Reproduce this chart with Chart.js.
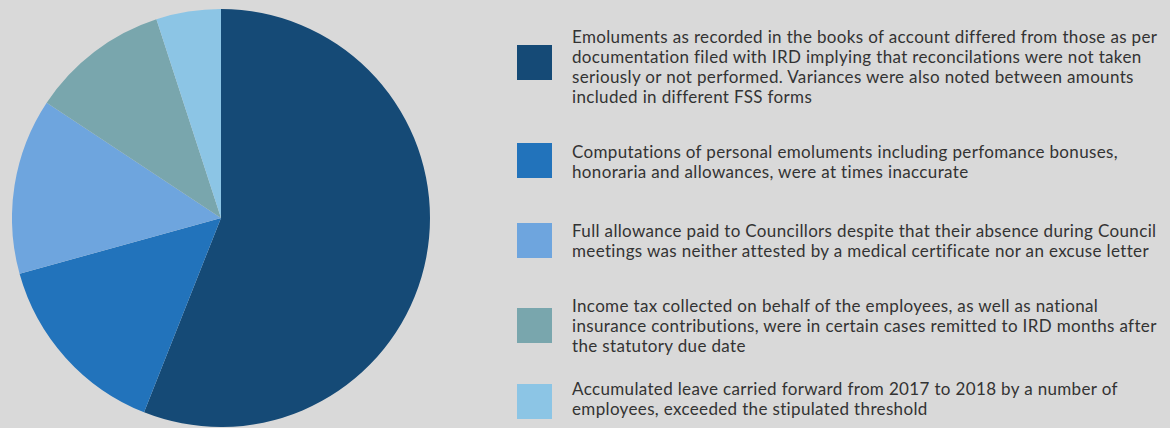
<!DOCTYPE html>
<html>
<head>
<meta charset="utf-8">
<script src="https://cdn.jsdelivr.net/npm/chart.js@4.4.1/dist/chart.umd.min.js"></script>
<style>
    html, body {
        margin: 0;
        padding: 0;
        width: 1170px;
        height: 428px;
        background: #d9d9d9;
        overflow: hidden;
        font-family: Lato, "Open Sans", sans-serif;
    }
    #pie-wrap {
        position: absolute;
        left: 12px;
        top: 8px;
        width: 418px;
        height: 420px;
    }
    .row { position: absolute; left: 0; top: 0; }
    .box {
        position: absolute;
        left: 517px;
        width: 35px;
        height: 35px;
    }
    .txt {
        position: absolute;
        left: 572px;
        font-size: 17px;
        letter-spacing: 0.35px;
        line-height: 20px;
        color: #333;
        white-space: nowrap;
    }
    /* posicao de cada linha da legenda */
    .row:nth-child(1) .box { top: 45px; }  .row:nth-child(1) .txt { top: 27px; }
    .row:nth-child(2) .box { top: 143px; } .row:nth-child(2) .txt { top: 142px; }
    .row:nth-child(3) .box { top: 223px; } .row:nth-child(3) .txt { top: 221px; }
    .row:nth-child(4) .box { top: 308px; } .row:nth-child(4) .txt { top: 296px; }
    .row:nth-child(5) .box { top: 384px; } .row:nth-child(5) .txt { top: 379px; }
</style>
</head>
<body>
<div id="pie-wrap"><canvas id="graficoPizza"></canvas></div>
<div id="legenda"></div>

<script>
// ======================================
// DADOS
// ======================================
const categorias = [
    ['Emoluments as recorded in the books of account differed from those as per',
     'documentation filed with IRD implying that reconcilations were not taken',
     'seriously or not performed. Variances were also noted between amounts',
     'included in different FSS forms'],
    ['Computations of personal emoluments including perfomance bonuses,',
     'honoraria and allowances, were at times inaccurate'],
    ['Full allowance paid to Councillors despite that their absence during Council',
     'meetings was neither attested by a medical certificate nor an excuse letter'],
    ['Income tax collected on behalf of the employees, as well as national',
     'insurance contributions, were in certain cases remitted to IRD months after',
     'the statutory due date'],
    ['Accumulated leave carried forward from 2017 to 2018 by a number of',
     'employees, exceeded the stipulated threshold']
];
const valores = [56, 14.7, 13.6, 10.7, 5];
const cores = ['#154a76', '#2273bb', '#6ea5de', '#79a6ad', '#8cc5e5'];

// ======================================
// GRAFICO
// ======================================
const ctx = document.getElementById('graficoPizza');
const chart = new Chart(ctx, {
    type: 'pie',
    data: {
        labels: categorias,
        datasets: [{
            data: valores,
            backgroundColor: cores,
            borderWidth: 0
        }]
    },
    options: {
        responsive: true,
        maintainAspectRatio: false,
        animation: false,
        layout: { padding: 0 },
        plugins: {
            legend: { display: false },
            tooltip: { enabled: true }
        }
    }
});

// Legenda em HTML a partir dos itens do proprio grafico
const legenda = document.getElementById('legenda');
const itens = chart.options.plugins.legend.labels.generateLabels(chart);
itens.forEach(item => {
    const row = document.createElement('div');
    row.className = 'row';

    const box = document.createElement('div');
    box.className = 'box';
    box.style.background = item.fillStyle;

    const txt = document.createElement('div');
    txt.className = 'txt';
    const linhas = Array.isArray(item.text) ? item.text : [item.text];
    linhas.forEach((l, i) => {
        if (i > 0) txt.appendChild(document.createElement('br'));
        txt.appendChild(document.createTextNode(l));
    });

    row.appendChild(box);
    row.appendChild(txt);
    legenda.appendChild(row);
});
</script>
</body>
</html>
